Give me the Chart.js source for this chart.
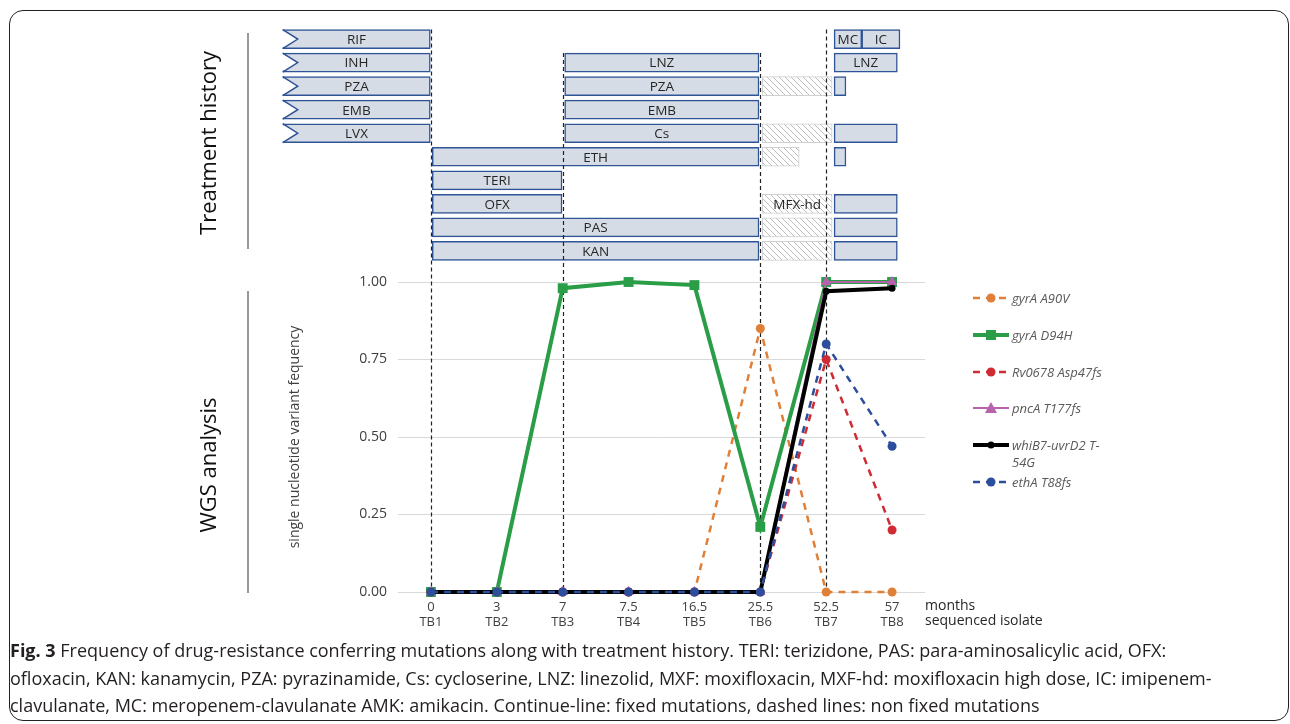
<!DOCTYPE html>
<html>
<head>
<meta charset="utf-8">
<script src="https://cdn.jsdelivr.net/npm/chart.js@4.4.1/dist/chart.umd.min.js"></script>
<style>
  body { margin: 0; background: #fff; font-family: "Open Sans", sans-serif; }
  #wrap { position: relative; width: 1290px; height: 724px; overflow: hidden; }
  #frame { position: absolute; left: 9px; top: 10px; width: 1280px; height: 711px; border: 1.5px solid #222; border-radius: 14px; box-sizing: border-box; }
  canvas { position: absolute; left: 0; top: 0; }
  .side { position: absolute; font-size: 22px; color: #111; white-space: nowrap; transform: translate(-50%, -50%) rotate(-90deg); }
  .sep { position: absolute; left: 247px; width: 1.5px; background: #999; }
  .item { position: absolute; left: 972px; display: flex; align-items: flex-start; font-style: italic; font-size: 13px; line-height: 17px; color: #595959; }
  .item span { width: 104px; margin-left: 2px; }
  .axisnote { position: absolute; left: 925px; top: 597px; font-size: 14px; line-height: 15px; color: #262626; }
  #caption { position: absolute; left: 10px; top: 637px; font-size: 18px; line-height: 27.5px; color: #231f20; white-space: nowrap; }
</style>
</head>
<body>
<div id="wrap">
  <div id="frame"></div>
  <canvas id="chart" width="1290" height="724"></canvas>
  <div class="side" style="left:207px;top:143px">Treatment history</div>
  <div class="side" style="left:207px;top:465px">WGS analysis</div>
  <div class="sep" style="top:33px;height:216px"></div>
  <div class="sep" style="top:291px;height:302px"></div>
  <div id="legend"></div>
  <div class="axisnote">months<br>sequenced isolate</div>
  <div id="caption"><b>Fig. 3</b> Frequency of drug-resistance conferring mutations along with treatment history. TERI: terizidone, PAS: para-aminosalicylic acid, OFX:<br>ofloxacin, KAN: kanamycin, PZA: pyrazinamide, Cs: cycloserine, LNZ: linezolid, MXF: moxifloxacin, MXF-hd: moxifloxacin high dose, IC: imipenem-<br>clavulanate, MC: meropenem-clavulanate AMK: amikacin. Continue-line: fixed mutations, dashed lines: non fixed mutations</div>
</div>
<script>
// x axis: sequenced isolates and months
const isolates = ['TB1', 'TB2', 'TB3', 'TB4', 'TB5', 'TB6', 'TB7', 'TB8'];
const months = ['0', '3', '7', '7.5', '16.5', '25.5', '52.5', '57'];

// variant frequencies per isolate
const seriesNames = ['gyrA A90V', 'gyrA D94H', 'Rv0678 Asp47fs', 'pncA T177fs', 'whiB7-uvrD2 T-54G', 'ethA T88fs'];
const gyrA_A90V = [0, 0, 0, 0, 0, 0.85, 0, 0];
const gyrA_D94H = [0, 0, 0.98, 1.0, 0.99, 0.21, 1.0, 1.0];
const rv0678_Asp47fs = [0, 0, 0, 0, 0, 0, 0.75, 0.20];
const pncA_T177fs = [0, 0, 0, 0, 0, 0, 1.0, 1.0];
const whiB7_T54G = [0, 0, 0, 0, 0, 0, 0.97, 0.98];
const ethA_T88fs = [0, 0, 0, 0, 0, 0, 0.80, 0.47];
const seriesValues = [gyrA_A90V, gyrA_D94H, rv0678_Asp47fs, pncA_T177fs, whiB7_T54G, ethA_T88fs];

// look of each series
const seriesColors = ['#e07f38', '#2a9d47', '#d02a33', '#b663ac', '#000000', '#2d4e9c'];
const seriesDash = [[7, 6], [], [7, 6], [], [], [7, 6]];
const seriesPoint = ['circle', 'rect', 'circle', 'triangle', 'circle', 'circle'];
const seriesRadius = [4.5, 7, 4.5, 6, 3.5, 4.5];
const seriesWidth = [2.5, 4, 2.5, 2, 4, 2.5];

// treatment history: row (0 = top), start and end on the isolate axis (TB1 = 0)
const drugNames = ['RIF', 'INH', 'PZA', 'EMB', 'LVX', 'LNZ', 'PZA', 'EMB', 'Cs', 'ETH', 'TERI', 'OFX', 'PAS', 'KAN',
  'MC', 'IC', 'LNZ', '', '', '', '', '', ''];
const drugRow = [0, 1, 2, 3, 4, 1, 2, 3, 4, 5, 6, 7, 8, 9, 0, 0, 1, 2, 4, 5, 7, 8, 9];
const drugFrom = [-2.25, -2.25, -2.25, -2.25, -2.25, 2.03, 2.03, 2.03, 2.03, 0.02, 0.02, 0.02, 0.02, 0.02,
  6.12, 6.54, 6.12, 6.12, 6.12, 6.12, 6.12, 6.12, 6.12];
const drugTo = [-0.01, -0.01, -0.01, -0.01, -0.01, 4.98, 4.98, 4.98, 4.98, 4.98, 1.99, 1.99, 4.98, 4.98,
  6.54, 7.12, 7.08, 6.30, 7.08, 6.30, 7.08, 7.08, 7.08];
const drugNotch = [true, true, true, true, true];

// interrupted / hatched periods
const pauseNames = ['', '', '', 'MFX-hd', '', ''];
const pauseRow = [2, 4, 5, 7, 8, 9];
const pauseFrom = [5.03, 5.03, 5.03, 5.03, 5.03, 5.03];
const pauseTo = [6.09, 6.09, 5.59, 6.09, 6.09, 6.09];

// dashed guides at isolates, starting at a treatment row
const guideAt = [0, 2, 5, 6];
const guideTopRow = [0, 1, 1, 0];

function hatch() {
  const c = document.createElement('canvas');
  c.width = 6; c.height = 6;
  const g = c.getContext('2d');
  g.fillStyle = '#ffffff';
  g.fillRect(0, 0, 6, 6);
  g.strokeStyle = '#bdbdbd';
  g.lineWidth = 1;
  g.beginPath();
  g.moveTo(0, 0); g.lineTo(6, 6);
  g.moveTo(-3, 3); g.lineTo(3, 9);
  g.moveTo(3, -3); g.lineTo(9, 3);
  g.stroke();
  return g.createPattern(c, 'repeat');
}

const barThickness = 19;

const treatmentLabels = {
  id: 'treatmentLabels',
  afterDatasetDraw(chart, args) {
    const ds = chart.data.datasets[args.index];
    if (!ds.names) return;
    const ctx = chart.ctx;
    ctx.save();
    args.meta.data.forEach((bar, i) => {
      const left = Math.min(bar.x, bar.base);
      const right = Math.max(bar.x, bar.base);
      const top = bar.y - bar.height / 2;
      const bottom = bar.y + bar.height / 2;
      if (ds.notch && ds.notch[i]) {
        ctx.fillStyle = '#ffffff';
        ctx.beginPath();
        ctx.moveTo(left - 2, top);
        ctx.lineTo(left + 15, bar.y);
        ctx.lineTo(left - 2, bottom);
        ctx.closePath();
        ctx.fill();
        ctx.strokeStyle = '#2f5496';
        ctx.lineWidth = 1.5;
        ctx.beginPath();
        ctx.moveTo(left, top);
        ctx.lineTo(left + 15, bar.y);
        ctx.lineTo(left, bottom);
        ctx.stroke();
      }
      if (ds.names[i]) {
        ctx.fillStyle = '#262626';
        ctx.font = '13.5px "Open Sans"';
        ctx.textAlign = 'center';
        ctx.textBaseline = 'middle';
        ctx.fillText(ds.names[i], (left + right) / 2, bar.y + 1);
      }
    });
    ctx.restore();
  }
};

let guidesDone = false;
const guides = {
  id: 'guides',
  beforeDatasetsDraw() { guidesDone = false; },
  beforeDatasetDraw(chart, args) {
    if (guidesDone || args.meta.type !== 'line') return;
    guidesDone = true;
    const { x, y, yT } = chart.scales;
    const ctx = chart.ctx;
    ctx.save();
    ctx.strokeStyle = '#222';
    ctx.lineWidth = 1.2;
    ctx.setLineDash([4, 3]);
    guideAt.forEach((g, i) => {
      const px = Math.round(x.getPixelForValue(g)) + 0.5;
      ctx.beginPath();
      ctx.moveTo(px, yT.getPixelForValue(guideTopRow[i]) - barThickness / 2);
      ctx.lineTo(px, y.getPixelForValue(0));
      ctx.stroke();
    });
    ctx.restore();
  }
};

const lineSets = seriesNames.map((name, i) => ({
  type: 'line',
  label: name,
  data: seriesValues[i].map((v, k) => ({ x: k, y: v })),
  xAxisID: 'x',
  yAxisID: 'y',
  borderColor: seriesColors[i],
  backgroundColor: seriesColors[i],
  borderWidth: seriesWidth[i],
  borderDash: seriesDash[i],
  pointStyle: seriesPoint[i],
  pointRadius: seriesRadius[i],
  pointBorderWidth: 0,
  tension: 0,
  clip: false,
  order: seriesNames.length - i
}));

const barSets = [
  {
    type: 'bar',
    indexAxis: 'y',
    data: drugNames.map((n, i) => ({ x: [drugFrom[i], drugTo[i]], y: drugRow[i] })),
    names: drugNames,
    notch: drugNotch,
    xAxisID: 'x',
    yAxisID: 'yT',
    backgroundColor: '#d6dce5',
    borderColor: '#2f5496',
    borderWidth: 1.5,
    borderSkipped: false,
    barThickness: barThickness,
    grouped: false,
    clip: false,
    order: 100
  },
  {
    type: 'bar',
    indexAxis: 'y',
    data: pauseNames.map((n, i) => ({ x: [pauseFrom[i], pauseTo[i]], y: pauseRow[i] })),
    names: pauseNames,
    xAxisID: 'x',
    yAxisID: 'yT',
    backgroundColor: hatch(),
    borderColor: '#d0d0d0',
    borderWidth: 1,
    borderSkipped: false,
    barThickness: barThickness,
    grouped: false,
    clip: false,
    order: 101
  }
];

new Chart(document.getElementById('chart'), {
  data: { datasets: [...barSets, ...lineSets] },
  plugins: [treatmentLabels, guides],
  options: {
    responsive: false,
    animation: false,
    events: [],
    layout: { padding: { left: 287, right: 365, top: 28, bottom: 92 } },
    plugins: { legend: { display: false }, tooltip: { enabled: false } },
    scales: {
      x: {
        type: 'linear',
        min: -0.5,
        max: 7.5,
        offset: false,
        grid: { display: false },
        border: { display: false },
        afterBuildTicks: s => { s.ticks = isolates.map((_, i) => ({ value: i })); },
        afterFit: s => { s.height = 40; },
        ticks: {
          padding: 0,
          color: '#404040',
          font: { family: 'Open Sans', size: 13, lineHeight: 1.12 },
          callback: v => [months[Math.round(v)], isolates[Math.round(v)]]
        }
      },
      y: {
        type: 'linear',
        position: 'left',
        stack: 'v',
        stackWeight: 310,
        min: 0,
        max: 1,
        grid: { color: '#d9d9d9', drawTicks: false },
        border: { display: false },
        afterFit: s => { s.width = 111; },
        title: {
          display: true,
          text: 'single nucleotide variant fequency',
          color: '#404040',
          font: { family: 'Open Sans', size: 14 },
          padding: 0
        },
        ticks: {
          stepSize: 0.25,
          padding: 11,
          color: '#404040',
          font: { family: 'Open Sans', size: 14 },
          callback: v => v.toFixed(2)
        }
      },
      yT: {
        type: 'linear',
        position: 'left',
        stack: 'v',
        stackWeight: 254,
        reverse: true,
        offset: false,
        min: -0.47,
        max: 10.32,
        grid: { display: false, offset: false },
        border: { display: false },
        ticks: { display: false },
        afterFit: s => { s.width = 111; }
      }
    }
  }
});

// legend built from the series arrays
const legend = document.getElementById('legend');
seriesNames.forEach((name, i) => {
  const c = seriesColors[i];
  let mark;
  if (seriesPoint[i] === 'rect') mark = `<rect x="14" y="3" width="10" height="10" fill="${c}"/>`;
  else if (seriesPoint[i] === 'triangle') mark = `<polygon points="19,2 25,13 13,13" fill="${c}"/>`;
  else mark = `<circle cx="19" cy="8" r="${seriesRadius[i]}" fill="${c}"/>`;
  const dash = seriesDash[i].length ? ` stroke-dasharray="${seriesDash[i].join(' ')}"` : '';
  const div = document.createElement('div');
  div.className = 'item';
  div.style.top = (290 + i * 36.8) + 'px';
  div.innerHTML = `<svg width="38" height="16"><line x1="1" y1="8" x2="37" y2="8" stroke="${c}" stroke-width="${seriesWidth[i]}"${dash}/>${mark}</svg>` +
    `<span>${name.replace(/-(?=\d)/g, '-<wbr>')}</span>`;
  legend.appendChild(div);
});
</script>
</body>
</html>
